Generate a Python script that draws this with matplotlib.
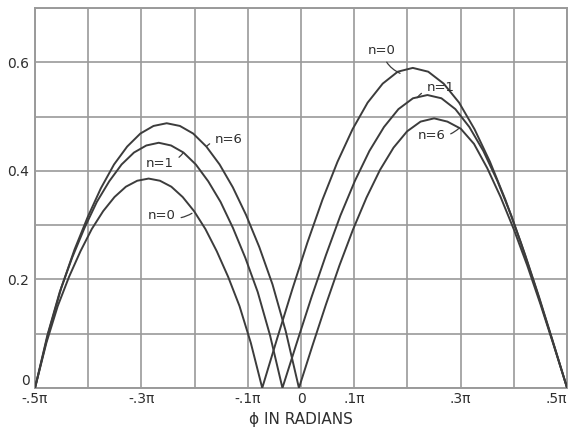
# Relative response vs phase angle for n = 0, 1, 6 (redrawn from an old graph paper plot)

import matplotlib.pyplot as plt

# phase angle phi (in units of pi) and response
n0_phi = [-0.5, -0.4787, -0.4573, -0.436, -0.4146, -0.3933, -0.3719, -0.3506, -0.3292, -0.3079,
          -0.2865, -0.2652, -0.2438, -0.2225, -0.2011, -0.1798, -0.1584, -0.1371, -0.1157, -0.0944,
          -0.073, -0.0447, -0.0164, 0.0119, 0.0402, 0.0685, 0.0968, 0.1251, 0.1534, 0.1817,
          0.21, 0.239, 0.268, 0.297, 0.326, 0.355, 0.384, 0.413, 0.442, 0.471, 0.5]
n0_val = [0.0, 0.083, 0.151, 0.205, 0.252, 0.293, 0.326, 0.352, 0.371, 0.382,
          0.386, 0.382, 0.371, 0.352, 0.326, 0.293, 0.252, 0.205, 0.151, 0.083,
          0.0, 0.092, 0.182, 0.268, 0.347, 0.417, 0.477, 0.526, 0.561, 0.583,
          0.59, 0.583, 0.561, 0.526, 0.477, 0.417, 0.347, 0.268, 0.182, 0.092, 0.0]

n1_phi = [-0.5, -0.4768, -0.4535, -0.4303, -0.407, -0.3838, -0.3605, -0.3373, -0.314, -0.2908,
          -0.2675, -0.2443, -0.221, -0.1978, -0.1745, -0.1513, -0.128, -0.1048, -0.0815, -0.0583,
          -0.035, -0.0078, 0.0195, 0.0468, 0.074, 0.1013, 0.1285, 0.1558, 0.183, 0.2103,
          0.2375, 0.2638, 0.29, 0.3163, 0.3425, 0.3688, 0.395, 0.4213, 0.4475, 0.4738, 0.5]
n1_val = [0.0, 0.097, 0.177, 0.24, 0.295, 0.343, 0.381, 0.412, 0.434, 0.447,
          0.452, 0.447, 0.434, 0.412, 0.381, 0.343, 0.295, 0.24, 0.177, 0.097,
          0.0, 0.084, 0.167, 0.245, 0.318, 0.382, 0.437, 0.481, 0.514, 0.534,
          0.54, 0.534, 0.514, 0.481, 0.437, 0.382, 0.318, 0.245, 0.167, 0.084, 0.0]

n6_phi = [-0.5, -0.4753, -0.4505, -0.4258, -0.401, -0.3763, -0.3515, -0.3268, -0.302, -0.2773,
          -0.2525, -0.2277, -0.2028, -0.178, -0.1531, -0.1283, -0.1034, -0.0786, -0.0537, -0.0289,
          -0.004, 0.0214, 0.0468, 0.0722, 0.0976, 0.123, 0.1484, 0.1738, 0.1992, 0.2246,
          0.25, 0.275, 0.3, 0.325, 0.35, 0.375, 0.4, 0.425, 0.45, 0.475, 0.5]
n6_val = [0.0, 0.1, 0.185, 0.255, 0.315, 0.368, 0.412, 0.445, 0.469, 0.483,
          0.488, 0.483, 0.469, 0.445, 0.412, 0.37, 0.319, 0.26, 0.191, 0.105,
          0.0, 0.078, 0.154, 0.226, 0.292, 0.351, 0.402, 0.443, 0.473, 0.491,
          0.497, 0.491, 0.478, 0.45, 0.405, 0.352, 0.292, 0.226, 0.154, 0.078, 0.0]

x_ticks = [-0.5, -0.4, -0.3, -0.2, -0.1, 0.0, 0.1, 0.2, 0.3, 0.4, 0.5]
x_tick_labels = ['-.5π', '', '-.3π', '', '-.1π', '0', '.1π', '', '.3π', '', '.5π']
y_ticks = [0.0, 0.1, 0.2, 0.3, 0.4, 0.5, 0.6, 0.7]
y_tick_labels = ['0', '', '0.2', '', '0.4', '', '0.6', '']

# curve labels: text, text position, point on the curve
labels = [('n=6', (-0.136, 0.458), (-0.178, 0.445)),
          ('n=1', (-0.265, 0.413), (-0.221, 0.434)),
          ('n=0', (-0.262, 0.318), (-0.205, 0.322)),
          ('n=0', (0.152, 0.622), (0.186, 0.58)),
          ('n=1', (0.262, 0.554), (0.218, 0.535)),
          ('n=6', (0.245, 0.465), (0.296, 0.478))]

grid_color = '#9a9a9a'
line_color = '#3c3c3c'
text_color = '#2e2e2e'

fig = plt.figure(figsize=(5.74, 4.33), dpi=100)
ax = fig.add_axes([0.061, 0.104, 0.927, 0.877])

for phi, val in [(n0_phi, n0_val), (n1_phi, n1_val), (n6_phi, n6_val)]:
    ax.plot(phi, val, color=line_color, lw=1.4, solid_joinstyle='round', zorder=3)

for text, xy_text, xy in labels:
    ax.annotate(text, xy=xy, xytext=xy_text, fontsize=9.5, color=text_color,
                ha='center', va='center', zorder=4,
                arrowprops=dict(arrowstyle='-', color=line_color, lw=0.9,
                                shrinkA=2, shrinkB=0,
                                connectionstyle='arc3,rad=0.25'))

ax.set_xlim(-0.5, 0.5)
ax.set_ylim(0, 0.7)
ax.set_xticks(x_ticks)
ax.set_xticklabels(x_tick_labels)
ax.set_yticks(y_ticks)
ax.set_yticklabels(y_tick_labels)
ax.tick_params(length=0, labelsize=10, labelcolor=text_color)
ax.tick_params(axis='x', pad=3)
ax.tick_params(axis='y', pad=4)

# corner labels sit like on the original: "0" a bit up, ".5π" pulled inside
ax.get_yticklabels()[0].set_verticalalignment('bottom')
ax.get_xticklabels()[-1].set_horizontalalignment('right')

ax.grid(True, color=grid_color, lw=1.2)
ax.set_axisbelow(True)
for sp in ax.spines.values():
    sp.set_color(grid_color)
    sp.set_linewidth(1.4)

ax.set_xlabel('ϕ IN RADIANS', fontsize=11, color=text_color, labelpad=4)

fig.savefig('out.png', dpi=100)
